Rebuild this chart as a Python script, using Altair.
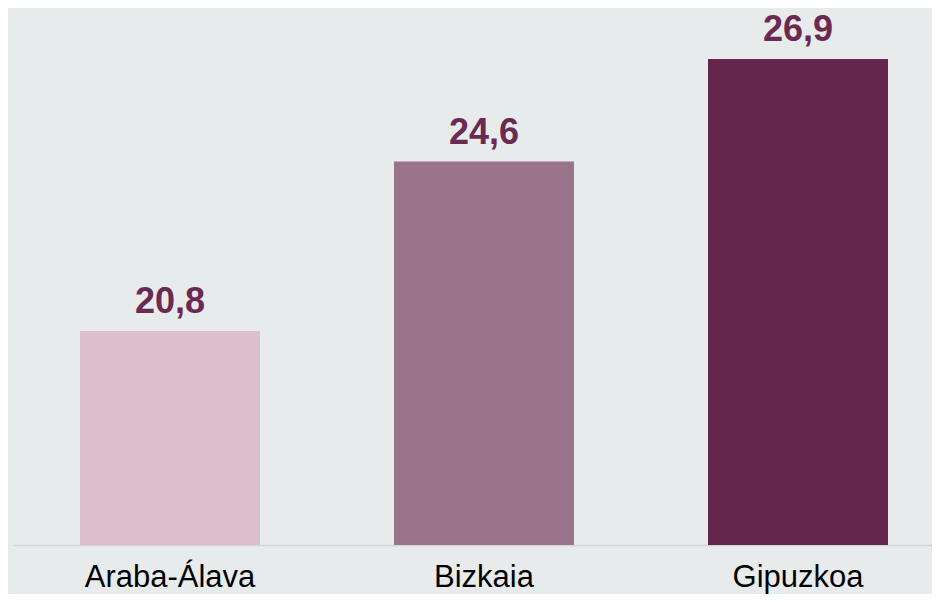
import altair as alt
import pandas as pd

regions = ["Araba-Álava", "Bizkaia", "Gipuzkoa"]
values = [20.8, 24.6, 26.9]
colors = ["#dcbfca", "#99738a", "#63254b"]
labels = [f"{v:.1f}".replace(".", ",") for v in values]
y_floor = 16

df = pd.DataFrame({"region": regions, "value": values, "label": labels})

x = alt.X(
    "region:N",
    sort=regions,
    title=None,
    scale=alt.Scale(paddingInner=0.4268, paddingOuter=0.2134),
    axis=alt.Axis(
        labelAngle=0,
        labelFont="Liberation Sans",
        labelFontSize=31,
        labelColor="#000000",
        labelPadding=17,
        ticks=False,
        domainColor="#d4d4d8",
        domainWidth=1.5,
    ),
)
y = alt.Y("value:Q", scale=alt.Scale(domain=[y_floor, 28], zero=False, nice=False), axis=None)

bars = alt.Chart(df).mark_bar().encode(
    x=x,
    y=y,
    y2=alt.datum(y_floor),
    color=alt.Color("region:N", scale=alt.Scale(domain=regions, range=colors), legend=None),
)
text = alt.Chart(df).mark_text(
    dy=-18,
    baseline="alphabetic",
    font="Liberation Sans",
    fontSize=36,
    fontWeight="bold",
    color="#6a2a51",
).encode(x=x, y=y, text="label:N")

chart = (
    (bars + text)
    .properties(
        width=942,
        height=535,
        background="#e8ebec",
        padding={"left": 5, "top": 2, "right": -23, "bottom": 49},
        autosize=alt.AutoSizeParams(type="none"),
    )
    .configure_view(stroke=None)
)

chart.save("out.html", embed_options={"renderer": "svg", "actions": False})
